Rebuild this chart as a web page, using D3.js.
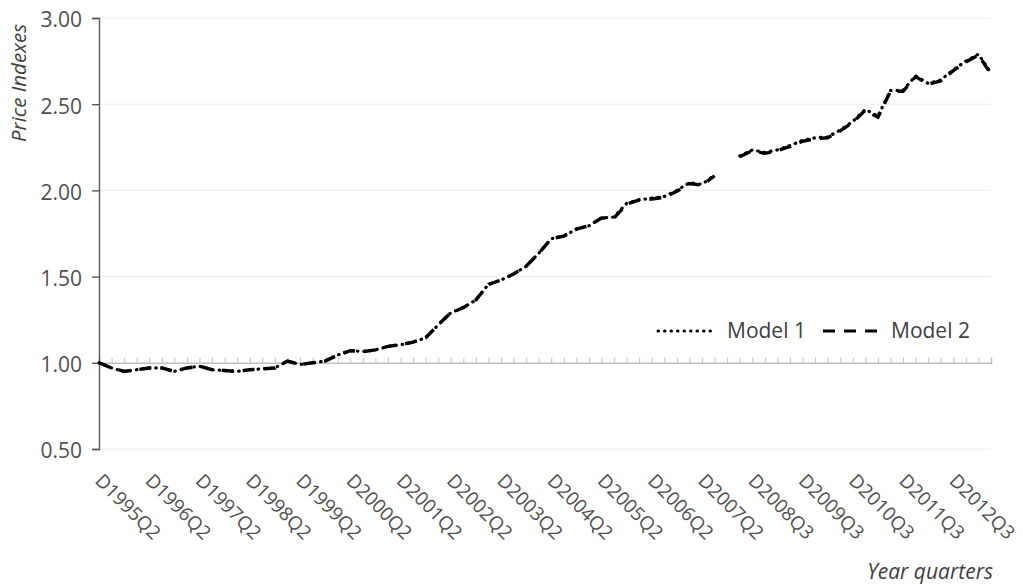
<!DOCTYPE html>
<html>
<head>
<meta charset="utf-8">
<script src="https://cdn.jsdelivr.net/npm/d3@7"></script>
<style>
  html, body { margin: 0; padding: 0; background: #fff; }
  svg { display: block; }
  text { font-family: "Open Sans", "Noto Sans", sans-serif; }
</style>
</head>
<body>
<svg id="chart" width="1023" height="587"></svg>
<script>
// Quarterly categories (one quarter, 2008Q1, is absent from the series)
const categories = [
  "D1995Q2","D1995Q3","D1995Q4","D1996Q1","D1996Q2","D1996Q3","D1996Q4","D1997Q1",
  "D1997Q2","D1997Q3","D1997Q4","D1998Q1","D1998Q2","D1998Q3","D1998Q4","D1999Q1",
  "D1999Q2","D1999Q3","D1999Q4","D2000Q1","D2000Q2","D2000Q3","D2000Q4","D2001Q1",
  "D2001Q2","D2001Q3","D2001Q4","D2002Q1","D2002Q2","D2002Q3","D2002Q4","D2003Q1",
  "D2003Q2","D2003Q3","D2003Q4","D2004Q1","D2004Q2","D2004Q3","D2004Q4","D2005Q1",
  "D2005Q2","D2005Q3","D2005Q4","D2006Q1","D2006Q2","D2006Q3","D2006Q4","D2007Q1",
  "D2007Q2","D2007Q3","D2007Q4","D2008Q2","D2008Q3","D2008Q4","D2009Q1","D2009Q2",
  "D2009Q3","D2009Q4","D2010Q1","D2010Q2","D2010Q3","D2010Q4","D2011Q1","D2011Q2",
  "D2011Q3","D2011Q4","D2012Q1","D2012Q2","D2012Q3","D2012Q4","D2013Q1","D2013Q2"
];

// Labels shown along the category axis
const xTickLabels = [
  "D1995Q2","D1996Q2","D1997Q2","D1998Q2","D1999Q2","D2000Q2","D2001Q2","D2002Q2",
  "D2003Q2","D2004Q2","D2005Q2","D2006Q2","D2007Q2","D2008Q3","D2009Q3","D2010Q3",
  "D2011Q3","D2012Q3"
];

const yTicks = [0.5, 1.0, 1.5, 2.0, 2.5, 3.0];

// Price index, Model 1
const model1 = [
  1.000, 0.970, 0.950, 0.960, 0.970, 0.970, 0.950, 0.970,
  0.980, 0.960, 0.955, 0.950, 0.960, 0.965, 0.970, 1.010,
  0.990, 1.000, 1.010, 1.045, 1.070, 1.065, 1.075, 1.095,
  1.105, 1.120, 1.145, 1.220, 1.290, 1.320, 1.365, 1.455,
  1.480, 1.515, 1.560, 1.635, 1.720, 1.735, 1.775, 1.795,
  1.840, 1.845, 1.925, 1.945, 1.955, 1.965, 2.000, 2.045,
  2.035, 2.090, null,  2.200, 2.235, 2.220, 2.235, 2.260,
  2.290, 2.305, 2.310, 2.350, 2.400, 2.470, 2.430, 2.580,
  2.580, 2.665, 2.620, 2.640, 2.700, 2.750, 2.790, 2.680
];

// Price index, Model 2
const model2 = [
  1.000, 0.970, 0.950, 0.960, 0.970, 0.970, 0.950, 0.970,
  0.980, 0.960, 0.955, 0.950, 0.960, 0.965, 0.970, 1.010,
  0.990, 1.000, 1.010, 1.045, 1.070, 1.065, 1.075, 1.095,
  1.105, 1.120, 1.145, 1.220, 1.290, 1.320, 1.365, 1.455,
  1.480, 1.515, 1.560, 1.635, 1.720, 1.735, 1.775, 1.795,
  1.840, 1.840, 1.920, 1.945, 1.950, 1.960, 1.995, 2.040,
  2.030, 2.085, null,  2.195, 2.230, 2.215, 2.230, 2.255,
  2.285, 2.300, 2.305, 2.345, 2.395, 2.465, 2.425, 2.575,
  2.575, 2.660, 2.615, 2.635, 2.695, 2.745, 2.785, 2.675
];

const seriesNames = ["Model 1", "Model 2"];

const svg = d3.select("#chart");

const x = d3.scalePoint().domain(categories).range([99, 991]);
const y = d3.scaleLinear().domain([0.5, 3.0]).range([449, 18]);

// Horizontal gridlines
svg.append("g")
  .selectAll("line")
  .data(yTicks.filter(v => v !== 1.0))
  .join("line")
  .attr("x1", x.range()[0]).attr("x2", x.range()[1])
  .attr("y1", d => y(d)).attr("y2", d => y(d))
  .attr("stroke", "#ececec").attr("stroke-width", 1);

// Category axis crossing at 1.00, ticks pointing up
const xAxis = svg.append("g")
  .attr("transform", `translate(0,${y(1.0)})`)
  .call(d3.axisBottom(x).tickSize(-5).tickSizeOuter(-5).tickFormat(""));
xAxis.select(".domain").attr("stroke", "#bfbfbf").attr("stroke-width", 1.5);
xAxis.selectAll(".tick line").attr("stroke", "#bfbfbf").attr("stroke-width", 1);

// Rotated category labels below the plot
svg.append("g")
  .selectAll("text")
  .data(xTickLabels)
  .join("text")
  .attr("transform", d => `translate(${x(d) - 5},482) rotate(45)`)
  .attr("text-anchor", "start")
  .attr("font-size", 19)
  .attr("fill", "#505050")
  .text(d => d);

// Value axis
const yAxis = svg.append("g")
  .attr("transform", `translate(${x.range()[0]},0)`)
  .call(d3.axisLeft(y).tickValues(yTicks).tickFormat(d3.format(".2f")).tickSize(7).tickSizeOuter(7).tickPadding(10));
yAxis.select(".domain").attr("stroke", "#595959").attr("stroke-width", 1.4);
yAxis.selectAll(".tick line").attr("stroke", "#595959").attr("stroke-width", 1.4);
yAxis.selectAll(".tick text")
  .attr("font-family", "'Open Sans', sans-serif")
  .attr("font-size", 21)
  .attr("fill", "#505050")
  .attr("dy", "0.42em");

// Series lines
const line = d3.line()
  .defined(d => d != null)
  .x((d, i) => x(categories[i]))
  .y(d => y(d));

const styles = [
  { data: model2, dash: "12,9", cap: "butt", width: 3.4 },
  { data: model1, dash: "0.5,6", cap: "round", width: 3.2 }
];

svg.append("g")
  .selectAll("path")
  .data(styles)
  .join("path")
  .attr("d", s => line(s.data))
  .attr("fill", "none")
  .attr("stroke", "#000")
  .attr("stroke-width", s => s.width)
  .attr("stroke-dasharray", s => s.dash)
  .attr("stroke-linecap", s => s.cap);

// Legend
const legend = svg.append("g");
const legendItems = [
  { name: seriesNames[0], x0: 658, x1: 716, tx: 727, dash: "0.5,6", cap: "round", width: 3 },
  { name: seriesNames[1], x0: 823, x1: 885, tx: 891, dash: "12,9", cap: "butt", width: 3.2 }
];
legendItems.forEach(it => {
  legend.append("line")
    .attr("x1", it.x0).attr("x2", it.x1)
    .attr("y1", 331).attr("y2", 331)
    .attr("stroke", "#000")
    .attr("stroke-width", it.width)
    .attr("stroke-dasharray", it.dash)
    .attr("stroke-linecap", it.cap);
  legend.append("text")
    .attr("x", it.tx).attr("y", 338)
    .attr("font-size", 21)
    .attr("fill", "#404040")
    .text(it.name);
});

// Axis titles
svg.append("text")
  .attr("transform", "translate(26,83) rotate(-90)")
  .attr("text-anchor", "middle")
  .attr("font-size", 20.5)
  .attr("font-style", "italic")
  .attr("fill", "#404040")
  .text("Price Indexes");

svg.append("text")
  .attr("x", 993).attr("y", 579)
  .attr("text-anchor", "end")
  .attr("font-size", 21)
  .attr("font-style", "italic")
  .attr("fill", "#404040")
  .text("Year quarters");
</script>
</body>
</html>
